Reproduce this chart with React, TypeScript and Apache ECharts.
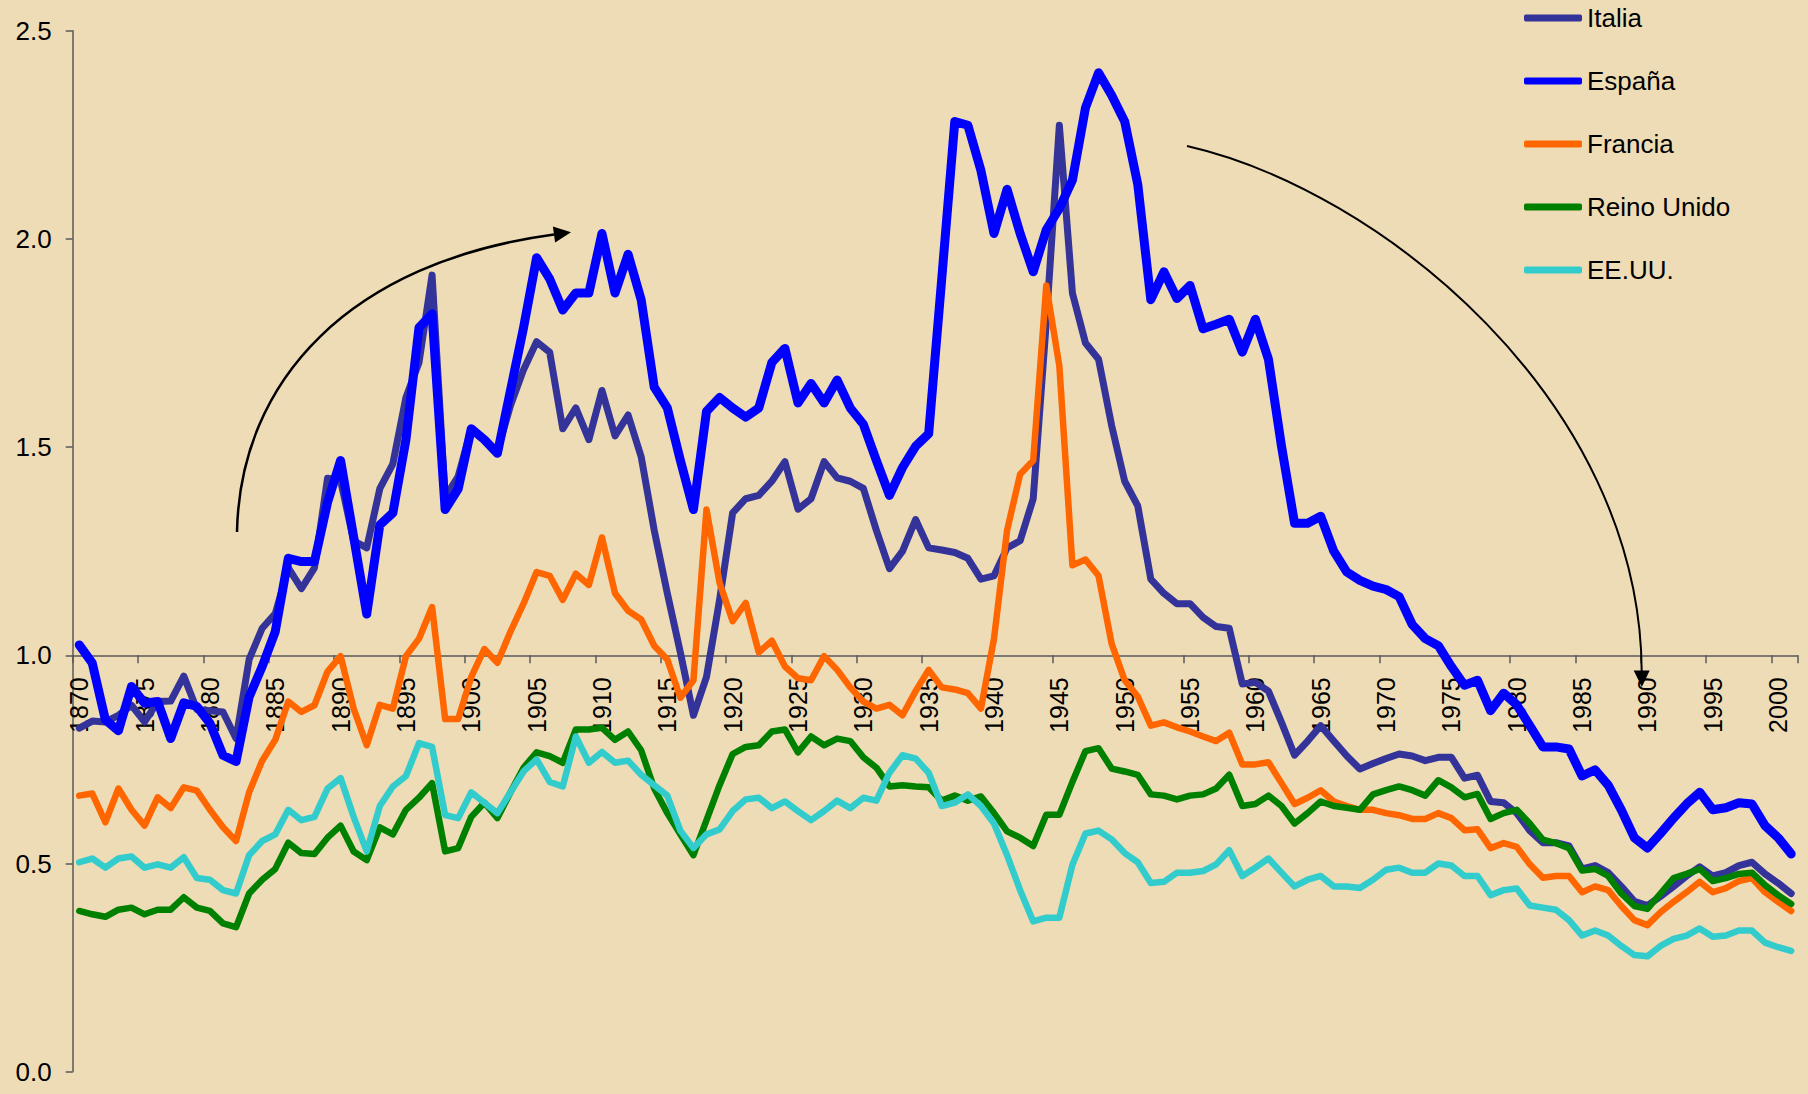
import React, { useEffect, useRef } from "react";
import * as echarts from "echarts";

const FONT = "'Liberation Sans', Arial, sans-serif";

const years: string[] = [];
for (let y = 1870; y <= 2001; y++) years.push(String(y));

const seriesNames = ["Italia", "España", "Francia", "Reino Unido", "EE.UU."];
const seriesColors = ["#333399", "#0000FF", "#FF6600", "#008000", "#33CCCC"];

const italia = [
  0.825, 0.842, 0.84, 0.856, 0.88, 0.84, 0.889, 0.89, 0.95, 0.87,
  0.867, 0.864, 0.8, 0.99, 1.065, 1.1, 1.21, 1.16, 1.21, 1.425,
  1.42, 1.275, 1.258, 1.4, 1.46, 1.619, 1.703, 1.913, 1.38, 1.43,
  1.544, 1.518, 1.49, 1.6, 1.686, 1.753, 1.728, 1.544, 1.594, 1.518,
  1.636, 1.527, 1.577, 1.477, 1.3, 1.149, 1.007, 0.856, 0.948, 1.133,
  1.342, 1.376, 1.384, 1.418, 1.465, 1.351, 1.376, 1.465, 1.426, 1.418,
  1.401, 1.3, 1.208, 1.25, 1.326, 1.258, 1.253, 1.247, 1.233, 1.183,
  1.191, 1.258, 1.275, 1.376, 1.8, 2.273, 1.87, 1.75, 1.711, 1.552,
  1.418, 1.359, 1.183, 1.149, 1.124, 1.124, 1.091, 1.069, 1.065, 0.931,
  0.935, 0.914, 0.839, 0.76, 0.794, 0.831, 0.794, 0.758, 0.727, 0.74,
  0.752, 0.763, 0.758, 0.747, 0.755, 0.755, 0.705, 0.712, 0.649, 0.646,
  0.621, 0.579, 0.55, 0.55, 0.542, 0.487, 0.495, 0.478, 0.445, 0.409,
  0.399, 0.421, 0.445, 0.47, 0.492, 0.47, 0.478, 0.495, 0.503, 0.475,
  0.453, 0.428,
];

const espana = [
  1.025, 0.981, 0.845, 0.819, 0.925, 0.885, 0.889, 0.8, 0.886, 0.877,
  0.837, 0.76, 0.745, 0.9, 0.973, 1.057, 1.233, 1.225, 1.225, 1.367,
  1.468, 1.284, 1.099, 1.313, 1.342, 1.518, 1.787, 1.82, 1.35, 1.4,
  1.544, 1.518, 1.485, 1.636, 1.787, 1.955, 1.904, 1.829, 1.87, 1.87,
  2.013, 1.87, 1.963, 1.854, 1.644, 1.594, 1.468, 1.35, 1.586, 1.619,
  1.594, 1.572, 1.594, 1.703, 1.737, 1.606, 1.653, 1.606, 1.661, 1.594,
  1.555, 1.468, 1.384, 1.451, 1.502, 1.532, 1.904, 2.282, 2.273, 2.164,
  2.013, 2.119, 2.013, 1.921, 2.022, 2.073, 2.141, 2.315, 2.399, 2.345,
  2.282, 2.131, 1.854, 1.921, 1.857, 1.888, 1.784, 1.795, 1.807, 1.728,
  1.807, 1.711, 1.502, 1.317, 1.317, 1.334, 1.25, 1.2, 1.18, 1.166,
  1.158, 1.141, 1.074, 1.04, 1.023, 0.973, 0.928, 0.94, 0.867, 0.909,
  0.881, 0.831, 0.78, 0.78, 0.775, 0.71, 0.725, 0.688, 0.629, 0.562,
  0.537, 0.572, 0.609, 0.643, 0.671, 0.629, 0.634, 0.646, 0.643, 0.591,
  0.562, 0.523,
];

const francia = [
  0.663, 0.668, 0.599, 0.68, 0.629, 0.591, 0.659, 0.633, 0.683, 0.675,
  0.629, 0.587, 0.554, 0.671, 0.747, 0.797, 0.889, 0.864, 0.88, 0.961,
  0.998, 0.872, 0.784, 0.881, 0.872, 0.998, 1.04, 1.116, 0.847, 0.847,
  0.948, 1.015, 0.982, 1.057, 1.124, 1.2, 1.191, 1.133, 1.196, 1.169,
  1.283, 1.149, 1.107, 1.086, 1.023, 0.99, 0.898, 0.94, 1.35, 1.174,
  1.082, 1.126, 1.007, 1.035, 0.973, 0.945, 0.94, 0.998, 0.965, 0.923,
  0.889, 0.872, 0.881, 0.856, 0.914, 0.965, 0.923, 0.918, 0.909, 0.872,
  1.04, 1.3, 1.435, 1.468, 1.888, 1.695, 1.216, 1.23, 1.191, 1.028,
  0.94, 0.901, 0.831, 0.839, 0.827, 0.817, 0.805, 0.794, 0.814, 0.738,
  0.738, 0.743, 0.693, 0.643, 0.658, 0.676, 0.649, 0.638, 0.629, 0.629,
  0.621, 0.616, 0.607, 0.607, 0.621, 0.609, 0.58, 0.582, 0.537, 0.549,
  0.54, 0.498, 0.466, 0.47, 0.47, 0.431, 0.445, 0.436, 0.398, 0.364,
  0.352, 0.383, 0.408, 0.431, 0.456, 0.431, 0.441, 0.458, 0.465, 0.431,
  0.408, 0.386,
];

const reinoUnido = [
  0.386, 0.378, 0.372, 0.389, 0.394, 0.378, 0.389, 0.389, 0.419, 0.394,
  0.386, 0.356, 0.347, 0.428, 0.461, 0.487, 0.55, 0.525, 0.523, 0.562,
  0.591, 0.529, 0.508, 0.587, 0.57, 0.629, 0.658, 0.693, 0.529, 0.537,
  0.612, 0.646, 0.609, 0.671, 0.73, 0.767, 0.758, 0.742, 0.822, 0.822,
  0.826, 0.797, 0.817, 0.772, 0.68, 0.621, 0.57, 0.52, 0.604, 0.688,
  0.763, 0.78, 0.784, 0.817, 0.822, 0.767, 0.805, 0.784, 0.8, 0.794,
  0.755, 0.73, 0.685, 0.688, 0.685, 0.683, 0.651, 0.663, 0.651, 0.661,
  0.621, 0.577, 0.562, 0.542, 0.617, 0.617, 0.696, 0.77, 0.777, 0.728,
  0.721, 0.713, 0.666, 0.663, 0.654, 0.663, 0.666, 0.68, 0.713, 0.638,
  0.643, 0.663, 0.638, 0.596, 0.621, 0.649, 0.638, 0.634, 0.629, 0.666,
  0.676, 0.685, 0.676, 0.663, 0.7, 0.683, 0.659, 0.667, 0.607, 0.621,
  0.629, 0.596, 0.557, 0.549, 0.537, 0.483, 0.487, 0.47, 0.428, 0.398,
  0.391, 0.428, 0.465, 0.475, 0.487, 0.458, 0.465, 0.475, 0.478, 0.448,
  0.424, 0.403,
];

const eeuu = [
  0.503, 0.512, 0.49, 0.512, 0.517, 0.49, 0.498, 0.49, 0.515, 0.465,
  0.461, 0.436, 0.428, 0.52, 0.554, 0.57, 0.629, 0.604, 0.612, 0.68,
  0.705, 0.612, 0.529, 0.638, 0.685, 0.71, 0.789, 0.78, 0.616, 0.609,
  0.671, 0.646, 0.621, 0.671, 0.721, 0.75, 0.696, 0.685, 0.805, 0.742,
  0.768, 0.742, 0.747, 0.713, 0.688, 0.663, 0.579, 0.537, 0.57, 0.582,
  0.626, 0.654, 0.658, 0.633, 0.649, 0.626, 0.604, 0.626, 0.651, 0.633,
  0.658, 0.651, 0.718, 0.76, 0.752, 0.718, 0.638, 0.646, 0.666, 0.638,
  0.596, 0.52, 0.436, 0.361, 0.37, 0.37, 0.497, 0.572, 0.579, 0.558,
  0.525, 0.503, 0.453, 0.456, 0.478, 0.478, 0.482, 0.498, 0.532, 0.47,
  0.49, 0.512, 0.478, 0.445, 0.461, 0.47, 0.445, 0.445, 0.441, 0.461,
  0.485, 0.49, 0.478, 0.478, 0.5, 0.495, 0.47, 0.47, 0.424, 0.436,
  0.44, 0.399, 0.394, 0.389, 0.364, 0.327, 0.339, 0.327, 0.302, 0.28,
  0.277, 0.302, 0.319, 0.327, 0.344, 0.324, 0.327, 0.339, 0.339, 0.31,
  0.299, 0.29,
];

const seriesData = [italia, espana, francia, reinoUnido, eeuu];
const seriesWidths = [7, 9, 6.5, 6.5, 6.5];

const Y_MIN = 0;
const Y_MAX = 2.5;
const Y_STEP = 0.5;
const X_AXIS_AT = 1.0;

export default function App() {
  const ref = useRef<HTMLDivElement>(null);

  useEffect(() => {
    document.body.style.margin = "0";
    const el = ref.current!;
    const chart = echarts.init(el, null, { renderer: "svg" });

    const H = 1094;
    const grid = { left: 72.7, right: 10.3, top: 30.7, bottom: 22.3 };
    const plotH = H - grid.top - grid.bottom;
    const xOffset = -plotH * ((X_AXIS_AT - Y_MIN) / (Y_MAX - Y_MIN));

    const axisColor = "#5a5a5a";

    chart.setOption({
      animation: false,
      backgroundColor: "#EEDCB6",
      grid: { ...grid, containLabel: false, outerBoundsMode: "none" },
      legend: {
        orient: "vertical",
        left: 1519,
        top: 0,
        itemWidth: 58,
        itemHeight: 7,
        itemGap: 37,
        icon: "roundRect",
        textStyle: { fontFamily: FONT, fontSize: 26, color: "#000", lineHeight: 26 },
        data: seriesNames,
      },
      xAxis: {
        type: "category",
        data: years,
        boundaryGap: true,
        offset: xOffset,
        axisLine: { show: true, onZero: false, lineStyle: { color: axisColor, width: 1.5 } },
        axisTick: { show: true, interval: 4, length: 8, lineStyle: { color: axisColor, width: 1.5 } },
        axisLabel: {
          interval: 4,
          rotate: 90,
          margin: 22,
          fontSize: 25,
          fontFamily: FONT,
          color: "#000",
        },
        splitLine: { show: false },
      },
      yAxis: {
        type: "value",
        min: Y_MIN,
        max: Y_MAX,
        interval: Y_STEP,
        axisLine: { show: true, lineStyle: { color: axisColor, width: 1.5 } },
        axisTick: { show: true, length: 7, lineStyle: { color: axisColor, width: 1.5 } },
        axisLabel: {
          margin: 21,
          fontSize: 26,
          fontFamily: FONT,
          color: "#000",
          formatter: (v: number) => v.toFixed(1),
        },
        splitLine: { show: false },
      },
      series: seriesNames.map((name, i) => ({
        name,
        type: "line",
        data: seriesData[i],
        showSymbol: false,
        symbol: "none",
        color: seriesColors[i],
        lineStyle: { color: seriesColors[i], width: seriesWidths[i], join: "round", cap: "round" },
        z: 2 + i,
      })),
      graphic: [
        {
          type: "bezierCurve",
          z: 100,
          shape: { x1: 237, y1: 532, cpx1: 240, cpy1: 380, cpx2: 350, cpy2: 262, x2: 554, y2: 234.5 },
          style: { stroke: "#000", lineWidth: 2.5, fill: null },
        },
        {
          type: "polygon",
          z: 100,
          shape: { points: [[571, 232.2], [552.9, 226.6], [555.1, 242.4]] },
          style: { fill: "#000" },
        },
        {
          type: "bezierCurve",
          z: 100,
          shape: { x1: 1187, y1: 146, cpx1: 1380, cpy1: 190, cpx2: 1640, cpy2: 400, x2: 1641.7, y2: 671 },
          style: { stroke: "#000", lineWidth: 2, fill: null },
        },
        {
          type: "polygon",
          z: 100,
          shape: { points: [[1641.8, 687], [1633.7, 670.5], [1649.7, 670.5]] },
          style: { fill: "#000" },
        },
      ],
    });

    return () => {
      chart.dispose();
    };
  }, []);

  return (
    <div
      ref={ref}
      style={{ position: "absolute", left: 0, top: 0, width: 1808, height: 1094 }}
    />
  );
}
